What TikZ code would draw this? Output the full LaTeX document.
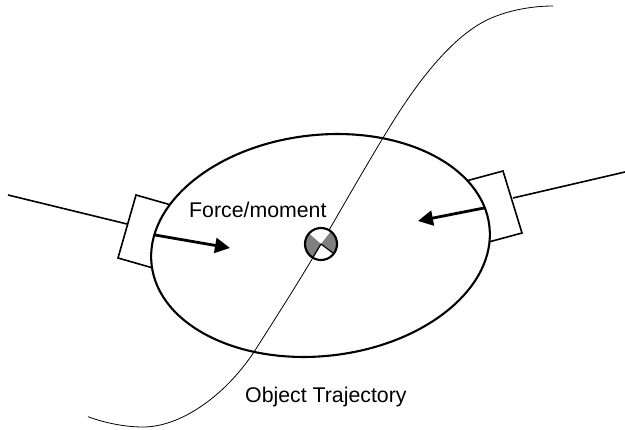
\documentclass[tikz,border=0pt]{standalone}
\usepackage{fontspec}
\setmainfont{Liberation Sans}
\usetikzlibrary{arrows.meta}
\tikzset{
 part/.style={line width=1.6pt,line join=miter},
 rim/.style={line width=2.1pt},
 push/.style={line width=2.8pt,-{Triangle[length=15pt,width=15pt]}},
 lbl/.style={inner sep=0pt,font=\fontsize{21.3}{24}\selectfont},
 sector/.style={fill=black!50},
 spoke/.style={line width=1.2pt}
}
\begin{document}
\begin{tikzpicture}[x=1pt,y=-1pt]
\useasboundingbox (0,0) rectangle (625,430);
\fill[white] (0,0) rectangle (625,430);
% grippers
\draw[part,fill=white] (136,195) -- (118,258) -- (160,270) -- (178,207) -- cycle;
\draw[part,fill=white] (455,184) -- (503,171) -- (522,233) -- (474,246) -- cycle;
\coordinate (la) at (8,195); \coordinate (lb) at (127,224);
\coordinate (ra) at (625,172); \coordinate (rb) at (513,198);
\draw[part] (la) -- (lb);
\draw[part] (ra) -- (rb);
% object
\draw[rim,fill=white,rotate around={6.5:(320.5,245.5)}] (320.5,245.5) ellipse [x radius=170,y radius=110.5];
% forces
\coordinate (fla) at (155,235); \coordinate (flb) at (230,248);
\coordinate (fra) at (484,208); \coordinate (frb) at (418,221);
\draw[push] (fla) -- (flb);
\draw[push] (fra) -- (frb);
% trajectory
\draw[line width=0.8pt] (88,416.7) .. controls (105,423) and (125,427) .. (143,427)
 .. controls (180,427) and (224,397) .. (254,352)
 .. controls (275,319) and (300,280) .. (321,244)
 .. controls (335,220) and (372,155) .. (394,120)
 .. controls (416,85) and (450,38) .. (487,20)
 .. controls (505,11.2) and (530,6) .. (553,6);
% centre mark
\coordinate (c) at (321,244);
\fill[white] (c) circle [radius=16];
\fill[sector] (c) -- ++(121:16) arc [start angle=121,end angle=221,radius=16] -- cycle;
\fill[sector] (c) -- ++(-52:16) arc [start angle=-52,end angle=37,radius=16] -- cycle;
\draw[spoke] (c) -- ++(121:16);
\draw[spoke] (c) -- ++(37:16);
\draw[rim] (c) circle [radius=16];
% labels
\node[lbl,anchor=base west] (force) at (189,218) {Force/moment};
\node[lbl,anchor=base west] (traj) at (245,403) {Object Trajectory};
\end{tikzpicture}
\end{document}
